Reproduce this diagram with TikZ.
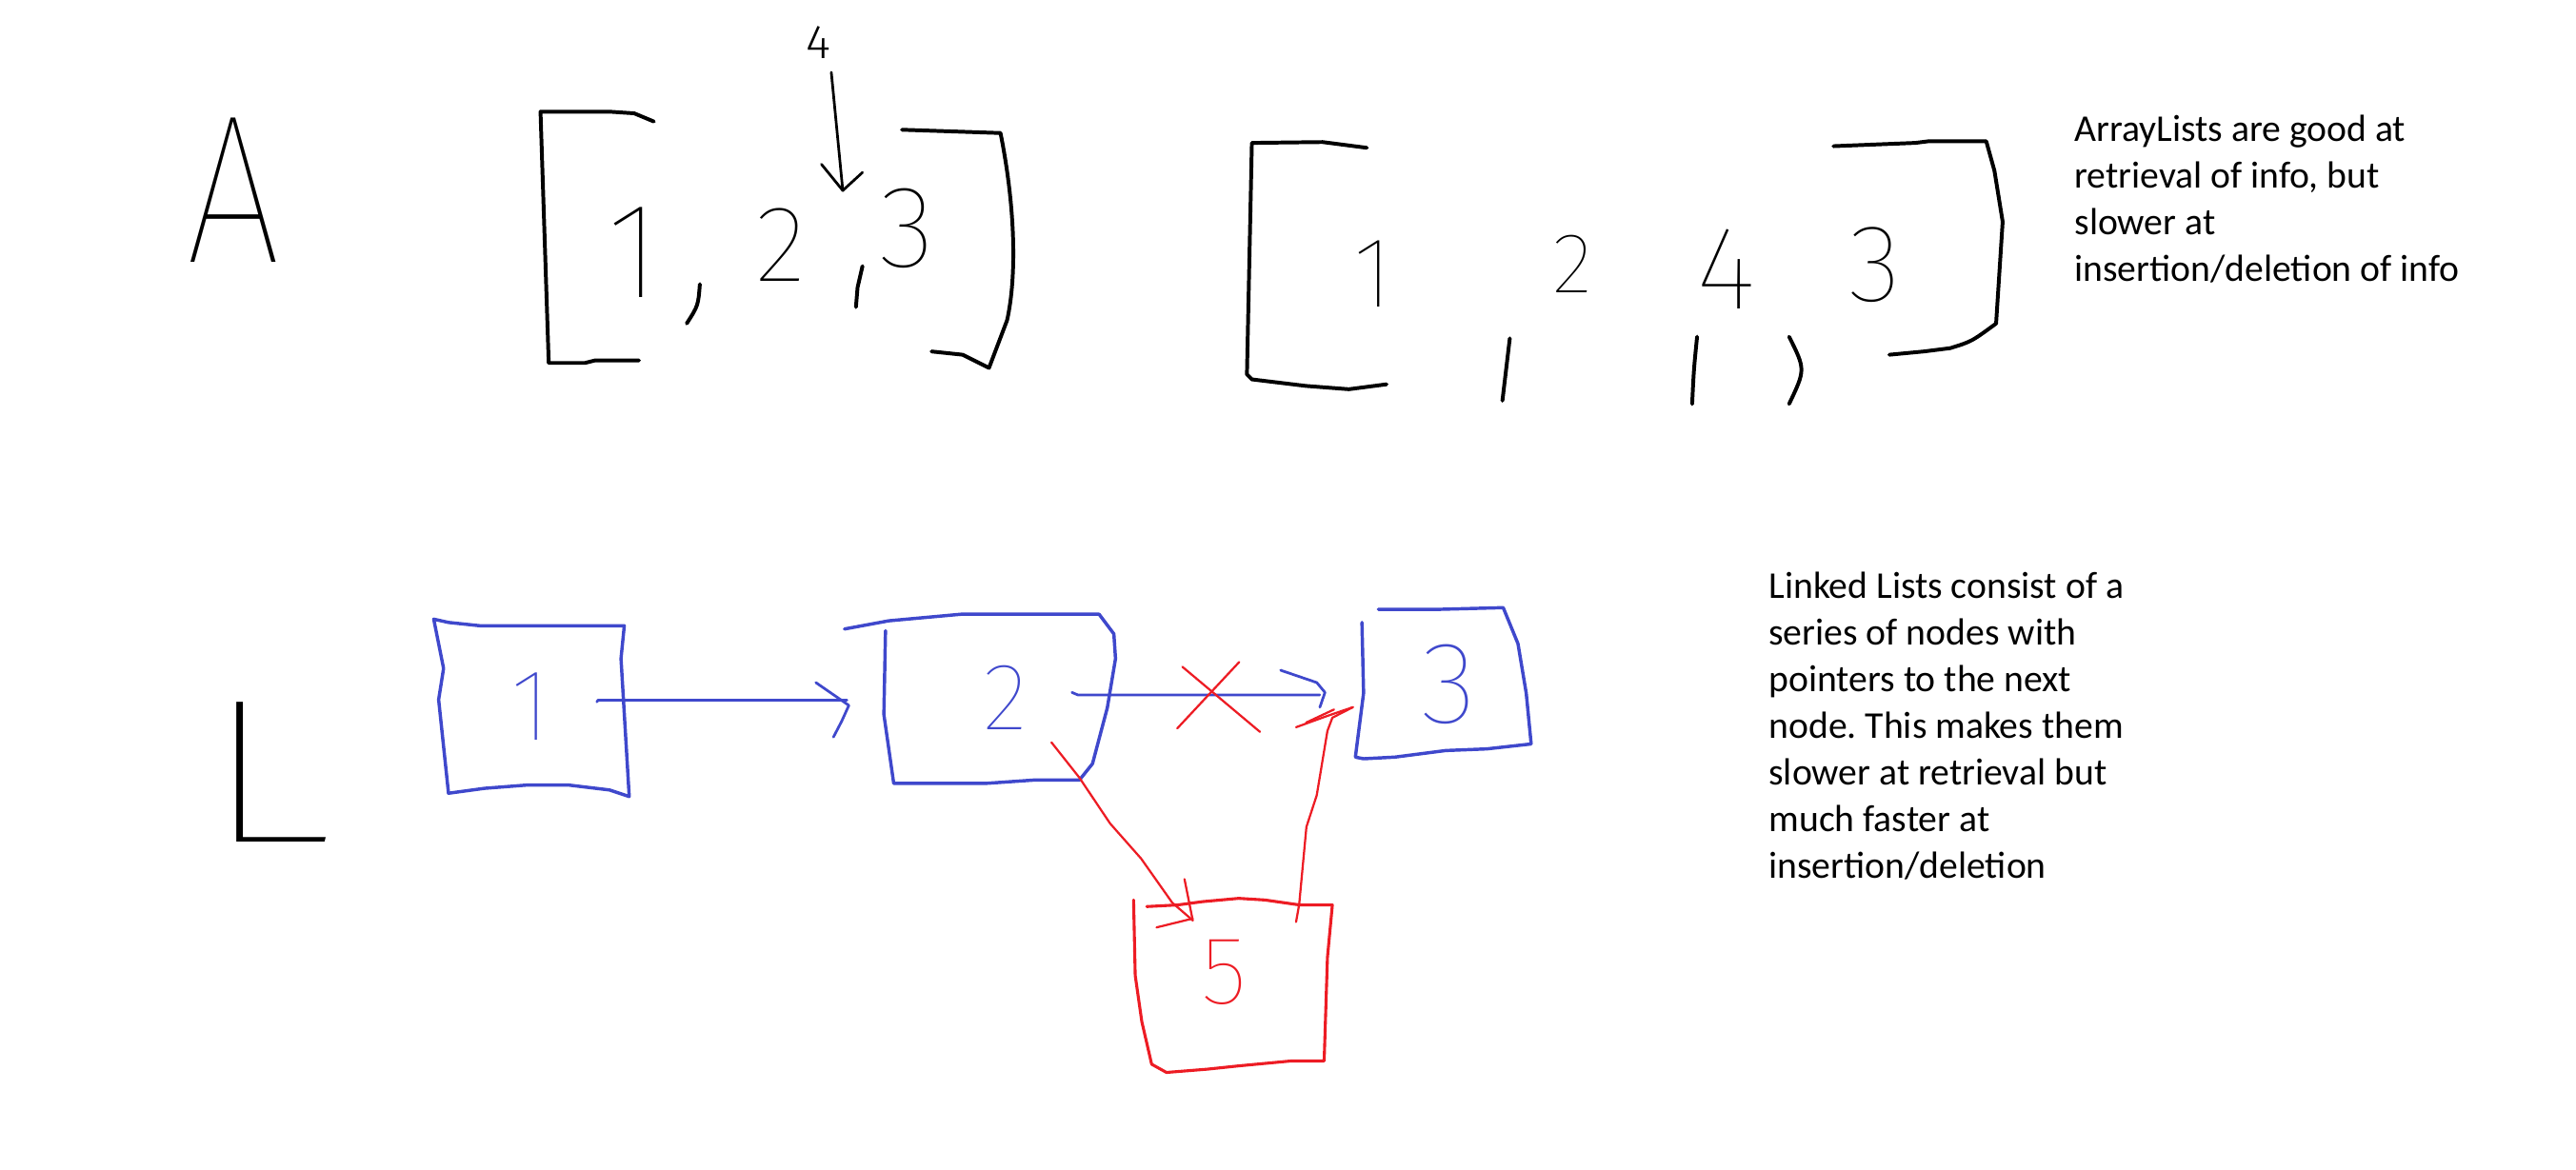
\documentclass[tikz,border=0pt]{standalone}
\usepackage{fontspec}
\setmainfont{Carlito}
\newfontfamily\hand{Fira Sans Thin}
\newfontfamily\handsmall{Fira Sans Light}
\definecolor{pblue}{RGB}{63,72,204}
\definecolor{pred}{RGB}{237,28,36}
\frenchspacing
\begin{document}
\begin{tikzpicture}[x=1pt,y=-1pt,line cap=round,line join=round,
  ink/.style={draw=black,line width=2.3pt},
  bink/.style={draw=pblue,line width=2pt},
  barrow/.style={draw=pblue,line width=1.6pt},
  rink/.style={draw=pred,line width=1.8pt},
  rarrow/.style={draw=pred,line width=1.3pt},
  hw/.style={inner sep=0pt},
  note/.style={inner sep=0pt,anchor=north west,align=left,font=\fontsize{23}{28.37}\selectfont}
]
\useasboundingbox[fill=white] (0,0) rectangle (1568,712);

% ---------- ArrayList row ----------
\node[hw,font={\hand\fontsize{129}{129}\selectfont},xscale=0.8] (A) at (142,115.5) {A};

% first array [1, 2, 3]
\draw[ink] (398,74) -- (386,69) -- (371,68) -- (329,68) -- (334,221) -- (356,221) -- (362,219.5) -- (389,219.5);
\node[hw,font={\hand\fontsize{83}{83}\selectfont}] (a1) at (386,154) {1};
\draw[ink] (426,173) .. controls (425,186) .. (418,197);
\node[hw,font={\hand\fontsize{66}{66}\selectfont}] (a2) at (475,149) {2};
\draw[ink] (525,162) -- (522,175) -- (521,187);
\node[hw,font={\hand\fontsize{71}{71}\selectfont}] (a3) at (552,139) {3};
\draw[ink] (549,79) -- (609,81) .. controls (618,126) and (619,168) .. (613,195) -- (602,224) -- (586,216) -- (567,214);
\node[hw,font={\handsmall\fontsize{29}{29}\selectfont}] (a4) at (498,26) {4};
\coordinate (tip4) at (513,116);
\draw[black,line width=1.6pt] (a4.south) ++(8,8) -- (tip4);
\draw[black,line width=1.6pt] (500,100) -- (tip4) -- (525,105);

% second array [1, 2, 4, 3]
\draw[ink] (832,90) -- (805,86.5) -- (762,87) -- (759,228) -- (762,231) -- (795,235) -- (821,237) -- (844,234);
\node[hw,font={\hand\fontsize{61}{61}\selectfont}] (b1) at (836,167) {1};
\draw[ink] (919,206) .. controls (917,225) .. (914.5,244);
\node[hw,font={\hand\fontsize{52}{52}\selectfont}] (b2) at (957,161) {2};
\draw[ink] (1033,205) .. controls (1031,225) .. (1030,246);
\node[hw,font={\hand\fontsize{72}{72}\selectfont}] (b4) at (1051,164) {4};
\draw[ink] (1089,205) .. controls (1099,225) .. (1089,246);
\node[hw,font={\hand\fontsize{67}{67}\selectfont}] (b3) at (1141,161) {3};
\draw[ink] (1116,89) -- (1166,87) -- (1174,86) -- (1209,86) -- (1214,104) -- (1219,135) -- (1215,197) .. controls (1200,208) .. (1187,212) -- (1171,214) -- (1150,216);

\node[note] (t1) at (1262.6,66.1) {\strut ArrayLists are good at\\retrieval of info, but\\slower at\\insertion/deletion of info};

% ---------- LinkedList row ----------
\node[hw,font={\hand\fontsize{125}{125}\selectfont},xscale=1.4] (L) at (162.5,470) {L};

% box 1
\draw[bink] (264,377) -- (273,379) -- (292,381) -- (358,381) -- (380,381) -- (378,401) -- (383,485) -- (371,481) -- (346,478) -- (321,478) -- (295,480) -- (273,483) -- (267,426) -- (270,407) -- cycle;
\node[hw,text=pblue,font={\hand\fontsize{62}{62}\selectfont}] (n1) at (323,430) {1};

% box 2
\draw[bink] (514,383) -- (541,378) -- (585,374) -- (669,374) -- (678,386) -- (679,401) -- (674,431) -- (665,465) -- (657,475) -- (629,475) -- (600,477) -- (544,477) -- (538,435) -- (539,384);
\node[hw,text=pblue,font={\hand\fontsize{58}{58}\selectfont}] (n2) at (612,425) {2};

% box 3
\draw[bink] (839,371) -- (877,371) -- (915,370) -- (924,392) -- (929,422) -- (932,453) -- (905,456) -- (880,457) -- (849,461) -- (830,462) -- (825,461) -- (830,422) -- (829,379);
\node[hw,text=pblue,font={\hand\fontsize{71}{71}\selectfont}] (n3) at (882,417) {3};

% box 5
\draw[rink] (698,552) -- (717,551) -- (732,549) -- (754,547) -- (770,548) -- (791,551) -- (811,551) -- (808,583) -- (806,646) -- (786,646) -- (754,649) -- (735,651) -- (710,653) -- (701,648) -- (695,622) -- (691,594) -- (690,548);
\node[hw,text=pred,font={\hand\fontsize{59}{59}\selectfont}] (n5) at (745,592) {5};

% arrow 1 -> 2
\coordinate (h12) at (516.7,429.5);
\draw[barrow] (363.3,427.4) -- (364,426.3) -- (515.5,426.3);
\draw[barrow] (496.6,415.6) -- (h12) -- (512.3,439.2) -- (507.3,448.8);

% arrow 2 -> 3 (crossed)
\coordinate (h23) at (806.5,421.6);
\draw[barrow] (652.5,421.6) -- (656,423.1) -- (803.3,423.1);
\draw[barrow] (779.5,408.1) -- (801.5,415.6) -- (h23) -- (803.4,430.6);
\draw[rarrow] (719.7,406) -- (766.9,445.6);
\draw[rarrow] (754.3,403.1) -- (716.6,443.5);

% red arrow 2 -> 5
\coordinate (h25) at (726,560.4);
\draw[rarrow] (640,452) -- (657,473.5) -- (675.7,501.4) -- (694.6,522.8) -- (713.5,549.6) -- (h25);
\draw[rarrow] (721,535.3) -- (h25);
\draw[rarrow] (704,564.7) -- (726,559.3);

% red arrow 5 -> 3
\coordinate (h53) at (823.5,430.6);
\draw[rarrow] (788.9,561.4) -- (790.8,550.7) -- (795.2,503.5) -- (801.5,484.2) -- (808,445) -- (811,437) -- (h53);
\draw[rarrow] (788.9,442.8) -- (807.7,436) -- (h53);
\draw[rarrow] (795,440) -- (812,432);

\node[note] (t2) at (1076.5,344.2) {\strut Linked Lists consist of a\\series of nodes with\\pointers to the next\\node. This makes them\\slower at retrieval but\\much faster at\\insertion/deletion};
\end{tikzpicture}
\end{document}
